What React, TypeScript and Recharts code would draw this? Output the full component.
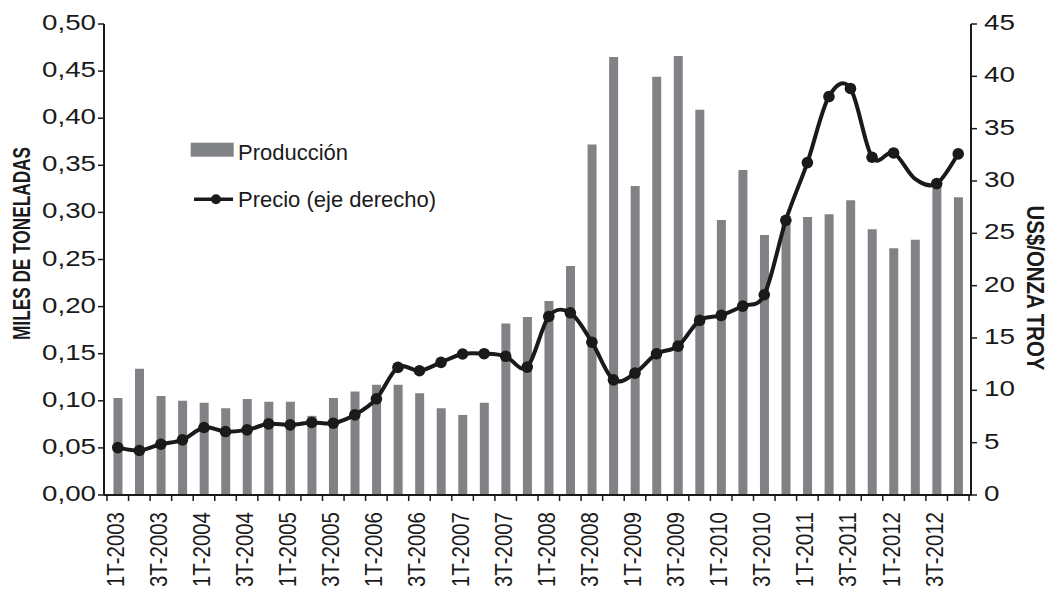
import React from 'react';
import { ComposedChart, Bar, Line, XAxis, YAxis, Legend } from 'recharts';

const categories = [
  '1T-2003', '2T-2003', '3T-2003', '4T-2003',
  '1T-2004', '2T-2004', '3T-2004', '4T-2004',
  '1T-2005', '2T-2005', '3T-2005', '4T-2005',
  '1T-2006', '2T-2006', '3T-2006', '4T-2006',
  '1T-2007', '2T-2007', '3T-2007', '4T-2007',
  '1T-2008', '2T-2008', '3T-2008', '4T-2008',
  '1T-2009', '2T-2009', '3T-2009', '4T-2009',
  '1T-2010', '2T-2010', '3T-2010', '4T-2010',
  '1T-2011', '2T-2011', '3T-2011', '4T-2011',
  '1T-2012', '2T-2012', '3T-2012', '4T-2012',
];

const produccion = [
  0.103, 0.134, 0.105, 0.100,
  0.098, 0.092, 0.102, 0.099,
  0.099, 0.084, 0.103, 0.110,
  0.117, 0.117, 0.108, 0.092,
  0.085, 0.098, 0.182, 0.189,
  0.206, 0.243, 0.372, 0.465,
  0.328, 0.444, 0.466, 0.409,
  0.292, 0.345, 0.276, 0.296,
  0.295, 0.298, 0.313, 0.282,
  0.262, 0.271, 0.332, 0.316,
];

const precio = [
  4.53, 4.25, 4.85, 5.27,
  6.45, 6.06, 6.22, 6.80,
  6.70, 6.93, 6.86, 7.66,
  9.19, 12.19, 11.87, 12.67,
  13.47, 13.50, 13.25, 12.22,
  17.06, 17.41, 14.60, 11.00,
  11.64, 13.49, 14.22, 16.68,
  17.16, 18.05, 19.13, 26.24,
  31.76, 38.07, 38.84, 32.27,
  32.68, 30.20, 29.75, 32.59,
];

const leftTicks = [0, 0.05, 0.1, 0.15, 0.2, 0.25, 0.3, 0.35, 0.4, 0.45, 0.5];
const rightTicks = [0, 5, 10, 15, 20, 25, 30, 35, 40, 45];
const hiddenMarkers = [37];

const seriesNames = { produccion: 'Producción', precio: 'Precio (eje derecho)' };
const axisTitles = { left: 'MILES DE TONELADAS', right: 'US$/ONZA TROY' };

const data = categories.map((c, i) => ({ periodo: c, produccion: produccion[i], precio: precio[i] }));

const FONT = '"Liberation Sans", Arial, Helvetica, sans-serif';
const INK = '#1a1a1a';
const BAR_FILL = '#818286';

// Excel-like smoothed line (Catmull-Rom as cubic Bezier)
const excelSmooth: any = (context: any) => {
  let pts: number[][] = [];
  return {
    areaStart() {},
    areaEnd() {},
    lineStart() {
      pts = [];
    },
    point(x: number, y: number) {
      pts.push([+x, +y]);
    },
    lineEnd() {
      const n = pts.length;
      if (!n) return;
      context.moveTo(pts[0][0], pts[0][1]);
      for (let i = 0; i < n - 1; i++) {
        const p0 = pts[i - 1] || pts[i];
        const p1 = pts[i];
        const p2 = pts[i + 1];
        const p3 = pts[i + 2] || pts[i + 1];
        const c1x = p1[0] + (p2[0] - p0[0]) / 6;
        const c1y = p1[1] + (p2[1] - p0[1]) / 6;
        const c2x = p2[0] - (p3[0] - p1[0]) / 6;
        const c2y = p2[1] - (p3[1] - p1[1]) / 6;
        context.bezierCurveTo(c1x, c1y, c2x, c2y, p2[0], p2[1]);
      }
    },
  };
};

const fmtLeft = (v: number) => v.toFixed(2).replace('.', ',');

const LeftTick = (props: any) => {
  const { x, y, payload } = props;
  return (
    <text x={x} y={y} dy={6} textAnchor="end" fontFamily={FONT} fontSize={22} fill={INK}
      textLength={54} lengthAdjust="spacingAndGlyphs">
      {fmtLeft(payload.value)}
    </text>
  );
};

const RightTick = (props: any) => {
  const { x, y, payload } = props;
  const s = String(payload.value);
  return (
    <text x={x} y={y} dy={6} textAnchor="start" fontFamily={FONT} fontSize={22} fill={INK}
      textLength={s.length * 15.5} lengthAdjust="spacingAndGlyphs">
      {s}
    </text>
  );
};

const XTick = (props: any) => {
  const { x, y, payload } = props;
  const off = payload && typeof payload.offset === 'number' && payload.offset > 0 ? payload.offset : 10.78;
  const i = payload && typeof payload.index === 'number' ? payload.index : props.index;
  const ty = y + 17;
  return (
    <g>
      {i === 0 && <line x1={x - off} x2={x - off} y1={y} y2={y + 6} stroke={INK} strokeWidth={1.5} />}
      <line x1={x + off} x2={x + off} y1={y} y2={y + 6} stroke={INK} strokeWidth={1.5} />
      {i % 2 === 0 && (
        <text x={x} y={ty} dy={6} transform={`rotate(-90 ${x} ${ty})`} textAnchor="end"
          fontFamily={FONT} fontSize={24} fill={INK} textLength={75} lengthAdjust="spacingAndGlyphs">
          {payload.value}
        </text>
      )}
    </g>
  );
};

const LeftTitle = () => {
  const cx = 21.7;
  const cy = 243.5;
  return (
    <text x={cx} y={cy} dy={8.3} transform={`rotate(-90 ${cx} ${cy})`} textAnchor="middle"
      fontFamily={FONT} fontWeight="bold" fontSize={23} fill={INK}
      textLength={193} lengthAdjust="spacingAndGlyphs">
      {axisTitles.left}
    </text>
  );
};

const RightTitle = () => {
  const cx = 1035;
  const cy = 288;
  return (
    <text x={cx} y={cy} dy={8.3} transform={`rotate(90 ${cx} ${cy})`} textAnchor="middle"
      fontFamily={FONT} fontWeight="bold" fontSize={23} fill={INK}
      textLength={165} lengthAdjust="spacingAndGlyphs">
      {axisTitles.right}
    </text>
  );
};

const LegendContent = (props: any) => {
  const payload: any[] = props.payload || [];
  const barItem = payload.find((p) => p.dataKey === 'produccion');
  const lineItem = payload.find((p) => p.dataKey === 'precio');
  return (
    <svg width={270} height={80} style={{ display: 'block', overflow: 'visible' }}>
      <rect x={5.7} y={7.7} width={43} height={14} fill={BAR_FILL} />
      <text x={53} y={24.5} fontFamily={FONT} fontSize={22} fill={INK}>
        {barItem ? barItem.value : seriesNames.produccion}
      </text>
      <line x1={9} x2={48} y1={64.3} y2={64.3} stroke={INK} strokeWidth={3.4} />
      <circle cx={31} cy={64.3} r={5} fill={INK} />
      <text x={53} y={72.3} fontFamily={FONT} fontSize={22} fill={INK}>
        {lineItem ? lineItem.value : seriesNames.precio}
      </text>
    </svg>
  );
};

const renderDot = (props: any) => {
  const { cx, cy, index } = props;
  if (hiddenMarkers.includes(index) || cx == null || cy == null) {
    return <g key={`dot-${index}`} />;
  }
  return <circle key={`dot-${index}`} cx={cx} cy={cy} r={5.8} fill={INK} stroke="none" />;
};

export default function App() {
  return (
    <div style={{ position: 'absolute', left: 0, top: 0, width: 1051, height: 589, background: '#ffffff' }}>
      <ComposedChart
        width={1051}
        height={589}
        data={data}
        margin={{ top: 24, right: 0, bottom: 0, left: 0 }}
        barCategoryGap="30%"
        style={{ fontFamily: FONT }}
      >
        <XAxis
          dataKey="periodo"
          height={94}
          interval={0}
          tickLine={false}
          tickSize={0}
          tickMargin={0}
          padding={{ left: 3, right: 2 }}
          axisLine={{ stroke: INK, strokeWidth: 2 }}
          tick={<XTick />}
        />
        <YAxis
          yAxisId="left"
          orientation="left"
          width={104}
          domain={[0, 0.5]}
          ticks={leftTicks}
          interval={0}
          tickSize={6}
          tickMargin={2}
          tickLine={{ stroke: INK, strokeWidth: 1.5 }}
          axisLine={{ stroke: INK, strokeWidth: 2 }}
          tick={<LeftTick />}
          label={<LeftTitle />}
        />
        <YAxis
          yAxisId="right"
          orientation="right"
          width={80}
          domain={[0, 45]}
          ticks={rightTicks}
          interval={0}
          tickSize={6}
          tickMargin={7}
          tickLine={{ stroke: INK, strokeWidth: 1.5 }}
          axisLine={{ stroke: INK, strokeWidth: 2 }}
          tick={<RightTick />}
          label={<RightTitle />}
        />
        <Legend
          layout="vertical"
          align="center"
          verticalAlign="middle"
          wrapperStyle={{ left: 185, top: 135, width: 270, height: 80 }}
          content={<LegendContent />}
        />
        <Bar
          yAxisId="left"
          dataKey="produccion"
          name={seriesNames.produccion}
          fill={BAR_FILL}
          isAnimationActive={false}
        />
        <Line
          yAxisId="right"
          dataKey="precio"
          name={seriesNames.precio}
          type={excelSmooth}
          stroke={INK}
          strokeWidth={4}
          dot={renderDot}
          activeDot={false}
          isAnimationActive={false}
        />
      </ComposedChart>
    </div>
  );
}
